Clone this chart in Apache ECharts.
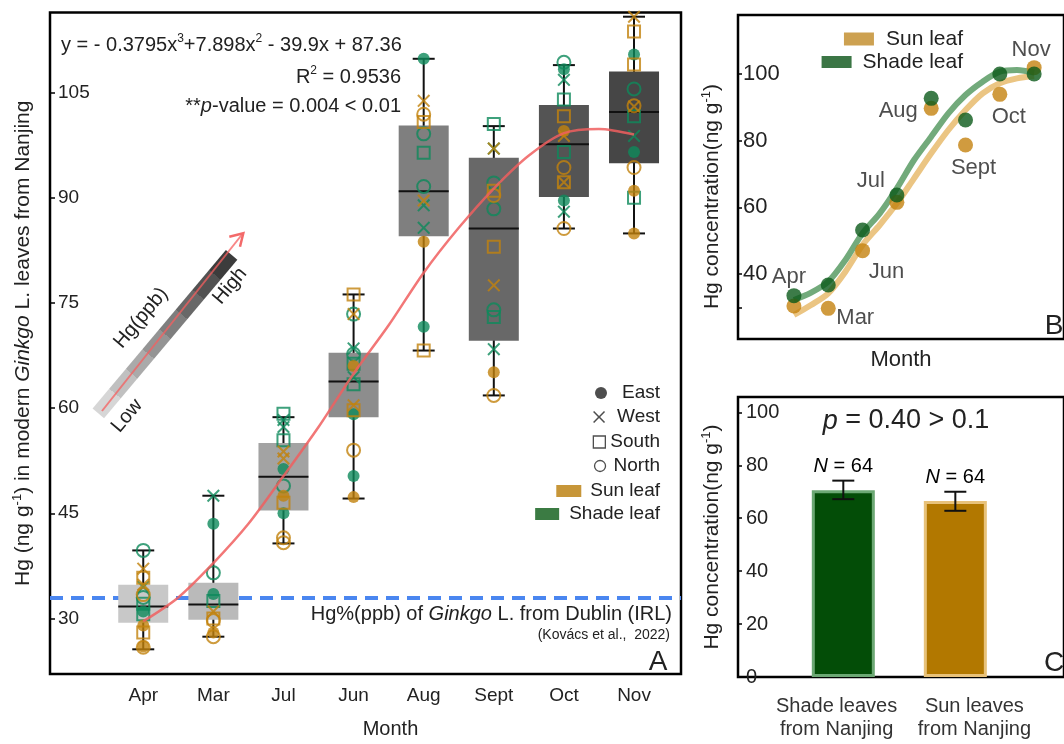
<!DOCTYPE html>
<html>
<head>
<meta charset="utf-8">
<script src="https://cdn.jsdelivr.net/npm/echarts@6/dist/echarts.min.js"></script>
<style>
  html, body { margin: 0; padding: 0; background: #fff; }
  #main { width: 1064px; height: 744px; }
</style>
</head>
<body>
<div id="main"></div>
<script>
// ---------- panel A : box plots by month ----------
var monthsA = ['Apr', 'Mar', 'Jul', 'Jun', 'Aug', 'Sept', 'Oct', 'Nov'];
var boxMin = [25.6, 27.4, 40.7, 47.1, 68.2, 61.8, 85.6, 84.9];
var boxQ1 = [29.4, 29.8, 45.4, 58.7, 84.5, 69.6, 90.1, 94.9];
var boxMed = [31.7, 32.0, 50.2, 63.8, 90.9, 85.6, 97.6, 102.2];
var boxQ3 = [34.8, 35.1, 55.0, 67.9, 100.3, 95.7, 103.2, 108.0];
var boxMax = [39.7, 47.5, 58.7, 76.2, 109.8, 100.2, 108.9, 115.8];
// red fitted curve, every half month
var fitA = [[1, 29.6], [1.5, 33.0], [2, 37.9], [2.5, 43.5], [3, 50.3], [3.5, 57.3], [4, 64.9], [4.5, 71.8],
  [5, 79.3], [5.5, 85.7], [6, 91.3], [6.5, 96.0], [7, 99.2], [7.5, 99.8], [8, 99.0]];
var dublinHg = 32.9;
var ticksA = [30, 45, 60, 75, 90, 105];

// single leaves [month position, Hg]
var sunEast = [[1, 29.0], [1, 26.0], [2, 28.0], [3, 47.5], [4, 66.0], [4, 47.3], [5, 83.7], [6, 65.1], [7, 99.5], [8, 91.0], [8, 84.9]];
var sunWest = [[1, 37.1], [1, 34.8], [2, 31.0], [3, 53.8], [3, 52.8], [4, 73.4], [4, 60.4], [5, 103.8], [5, 89.6], [6, 97.0], [6, 77.5], [7, 98.8], [7, 92.2], [8, 115.8], [8, 103.0]];
var sunSouth = [[1, 35.8], [1, 28.0], [2, 30.0], [3, 46.5], [4, 76.2], [4, 59.7], [5, 100.8], [5, 68.2], [6, 91.0], [6, 83.0], [7, 101.6], [7, 92.2], [8, 113.7], [8, 109.0]];
var sunNorth = [[1, 33.4], [1, 25.9], [2, 29.7], [2, 27.4], [3, 41.5], [3, 40.8], [4, 54.0], [5, 101.9], [6, 90.3], [6, 61.8], [7, 94.3], [7, 85.6], [8, 103.1], [8, 94.3]];
var shadeEast = [[1, 31.0], [2, 43.5], [2, 33.5], [3, 51.3], [3, 45.0], [4, 59.1], [4, 50.3], [5, 109.8], [5, 71.6], [7, 108.3], [7, 89.6], [8, 110.4], [8, 96.5]];
var shadeWest = [[1, 34.5], [2, 47.5], [3, 58.3], [3, 57.3], [4, 68.5], [4, 64.4], [5, 88.9], [5, 85.7], [6, 97.0], [6, 68.4], [7, 106.8], [7, 88.0], [8, 98.8]];
var shadeSouth = [[1, 32.1], [1, 30.6], [2, 32.5], [3, 59.2], [3, 55.4], [4, 66.3], [4, 63.4], [5, 96.4], [6, 100.5], [6, 73.0], [7, 104.0], [7, 96.5], [8, 101.6], [8, 90.0]];
var shadeNorth = [[1, 39.7], [1, 33.0], [2, 36.5], [3, 48.9], [4, 73.4], [4, 67.7], [5, 99.1], [5, 91.6], [6, 92.1], [6, 88.4], [6, 74.0], [7, 109.3], [8, 105.5]];

// ---------- panel B : monthly means ----------
var monthsB = ['Apr', 'Mar', 'Jun', 'Jul', 'Aug', 'Sept', 'Oct', 'Nov'];
var sunB = [30.4, 29.7, 47.0, 61.5, 89.7, 78.7, 93.9, 101.9];
var shadeB = [33.5, 36.7, 53.2, 63.7, 92.7, 86.2, 100.0, 100.0];
var sunFitB = [[1, 27.7], [1.5, 30.7], [2, 34.2], [2.5, 40.7], [3, 48.7], [3.5, 54.7], [4, 61.2], [4.5, 68.7],
  [5, 76.2], [5.5, 83.2], [6, 89.2], [6.5, 94.2], [7, 97.2], [7.5, 98.7], [8, 99.4]];
var shadeFitB = [[1, 32.2], [1.5, 34.4], [2, 37.7], [2.5, 44.2], [3, 52.2], [3.5, 58.2], [4, 65.7], [4.5, 74.2],
  [5, 81.2], [5.5, 88.2], [6, 93.7], [6.5, 97.7], [7, 100.7], [7.5, 101.2], [8, 100.4]];

// ---------- panel C : sun vs shade ----------
var catsC = ['Shade leaves\nfrom Nanjing', 'Sun leaves\nfrom Nanjing'];
var meanC = [70.6, 66.5];
var errLoC = [67.2, 62.8];
var errHiC = [74.2, 70.0];
var nC = [64, 64];

var FONT = '"Liberation Sans", Arial, sans-serif';
var INK = '#222';
var SUN = '#c2820c', SHADE = '#0e8a5b';
var boxColors = ['#c8c8c8', '#bababa', '#a3a3a3', '#8d8d8d', '#7f7f7f', '#686868', '#545454', '#464646'];
var XPATH = 'path://M0,1.1L1.1,0L5,3.9L8.9,0L10,1.1L6.1,5L10,8.9L8.9,10L5,6.1L1.1,10L0,8.9L3.9,5Z';
var XTHIN = 'path://M0.9,0L5,4.1L9.1,0L10,0.9L5.9,5L10,9.1L9.1,10L5,5.9L0.9,10L0,9.1L4.1,5L0,0.9Z';
// the category captions in C sit slightly off the bar centres
var catLabelAt = [0.94, 2.17];

function rich(size) {
  return {
    sup: { fontSize: Math.round(size * 0.6), verticalAlign: 'top', fontFamily: FONT, color: INK, lineHeight: size + 4 },
    i: { fontSize: size, fontStyle: 'italic', fontFamily: FONT, color: INK, lineHeight: size + 4 },
    n: { fontSize: size, fontFamily: FONT, color: INK, lineHeight: size + 4 }
  };
}
function txt(size) {
  return { fontSize: size, color: INK, fontFamily: FONT };
}

var chart = echarts.init(document.getElementById('main'));

function renderBox(params, api) {
  var x = api.value(0);
  var pMin = api.coord([x, api.value(1)]);
  var pQ1 = api.coord([x, api.value(2)]);
  var pMed = api.coord([x, api.value(3)]);
  var pQ3 = api.coord([x, api.value(4)]);
  var pMax = api.coord([x, api.value(5)]);
  var half = 25, cap = 11;
  var black = { stroke: '#111', lineWidth: 2 };
  return {
    type: 'group',
    children: [
      { type: 'line', shape: { x1: pMin[0], y1: pMin[1], x2: pMax[0], y2: pMax[1] }, style: black },
      { type: 'line', shape: { x1: pMin[0] - cap, y1: pMin[1], x2: pMin[0] + cap, y2: pMin[1] }, style: black },
      { type: 'line', shape: { x1: pMax[0] - cap, y1: pMax[1], x2: pMax[0] + cap, y2: pMax[1] }, style: black },
      { type: 'rect', shape: { x: pQ3[0] - half, y: pQ3[1], width: half * 2, height: pQ1[1] - pQ3[1] }, style: { fill: boxColors[params.dataIndex] } },
      { type: 'line', shape: { x1: pMed[0] - half, y1: pMed[1], x2: pMed[0] + half, y2: pMed[1] }, style: black }
    ]
  };
}

function renderErr(params, api) {
  var x = api.value(0);
  var lo = api.coord([x, api.value(1)]);
  var hi = api.coord([x, api.value(2)]);
  var cap = 11;
  var black = { stroke: '#111', lineWidth: 2 };
  return {
    type: 'group',
    children: [
      { type: 'line', shape: { x1: lo[0], y1: lo[1], x2: hi[0], y2: hi[1] }, style: black },
      { type: 'line', shape: { x1: lo[0] - cap, y1: lo[1], x2: lo[0] + cap, y2: lo[1] }, style: black },
      { type: 'line', shape: { x1: hi[0] - cap, y1: hi[1], x2: hi[0] + cap, y2: hi[1] }, style: black },
      {
        type: 'text',
        style: {
          x: hi[0], y: hi[1] - 2, align: 'center', verticalAlign: 'bottom',
          text: '{i|N}{n| = ' + api.value(3) + '}', rich: rich(20)
        }
      }
    ]
  };
}

function pointSeries(name, data, color, kind) {
  var s = { name: name, type: 'scatter', xAxisIndex: 0, yAxisIndex: 0, data: data, z: 3, silent: true };
  if (kind === 'east') {
    s.symbol = 'circle'; s.symbolSize = 12; s.itemStyle = { color: color };
  } else if (kind === 'west') {
    s.symbol = XPATH; s.symbolSize = 13; s.itemStyle = { color: color };
  } else if (kind === 'south') {
    s.symbol = 'rect'; s.symbolSize = 12; s.itemStyle = { color: 'rgba(0,0,0,0)', borderColor: color, borderWidth: 2 };
  } else {
    s.symbol = 'circle'; s.symbolSize = 13; s.itemStyle = { color: 'rgba(0,0,0,0)', borderColor: color, borderWidth: 2 };
  }
  return s;
}

// month labels in panel B: which point carries them and the shift
var bLabelOn = ['shade', 'sun', 'sun', 'shade', 'shade', 'sun', 'sun', 'sun'];
var bLabelShift = [[-5, -19], [27, 10], [24, 21], [-26, -14], [-33, 13], [8, 23], [9, 23], [-3, -18]];

function pointsB(vals, key) {
  return vals.map(function (v, i) {
    var item = { value: [i + 1, v] };
    if (bLabelOn[i] === key) {
      item.label = { show: true, position: 'inside', offset: bLabelShift[i], formatter: monthsB[i], fontSize: 22, color: INK, fontFamily: FONT };
    }
    return item;
  });
}

function legendRow(name, icon, w, h, style, textRight, cy, gap, size) {
  return {
    data: [{ name: name, icon: icon, itemStyle: style }],
    right: 1064 - textRight, top: cy - 11, itemWidth: w, itemHeight: h, padding: 0,
    selectedMode: false,
    textStyle: { fontSize: size, color: INK, fontFamily: FONT, lineHeight: 22, padding: [0, 0, 0, gap] }
  };
}

// stepped grey bands of the Low -> High arrow
var bandStops = [];
for (var b = 0; b < 8; b++) {
  var g = Math.round(0xd6 - (0xd6 - 0x3c) * b / 7);
  var c = 'rgb(' + g + ',' + g + ',' + g + ')';
  bandStops.push({ offset: b / 8, color: c }, { offset: (b + 1) / 8, color: c });
}
var ang = 0.871;

var frame = { show: true, borderColor: '#000', borderWidth: 2.5, backgroundColor: 'transparent' };
var noLine = { show: false, onZero: false };

var option = {
  backgroundColor: '#fff',
  animation: false,
  textStyle: { fontFamily: FONT },
  grid: [
    Object.assign({ left: 50, top: 12.5, right: 383, bottom: 65 }, frame),
    Object.assign({ left: 738, top: 15, right: -12, bottom: 405 }, frame),
    Object.assign({ left: 738, top: 397, right: -12, bottom: 67 }, frame)
  ],
  xAxis: [
    {
      gridIndex: 0, type: 'value', min: -0.33, max: 8.67,
      axisLine: noLine, axisTick: { show: false }, splitLine: { show: false },
      axisLabel: Object.assign({ customValues: [1, 2, 3, 4, 5, 6, 7, 8], margin: 12, hideOverlap: false, showMinLabel: true, showMaxLabel: true, formatter: function (v) { return monthsA[Math.round(v) - 1]; } }, txt(19)),
      name: 'Month', nameLocation: 'middle', nameGap: 45,
      nameTextStyle: Object.assign({ padding: [0, 0, 0, 50] }, txt(20))
    },
    {
      gridIndex: 1, type: 'value', min: -0.63, max: 8.87,
      axisLine: noLine, axisTick: { show: false }, splitLine: { show: false }, axisLabel: { show: false },
      name: 'Month', nameLocation: 'middle', nameGap: 10, nameTextStyle: txt(22)
    },
    {
      gridIndex: 2, type: 'value', min: 0.06, max: 2.97,
      axisLine: noLine, axisTick: { show: false }, splitLine: { show: false },
      axisLabel: {
        customValues: catLabelAt, margin: 18, lineHeight: 23, fontSize: 20, color: '#333', fontFamily: FONT,
        hideOverlap: false, showMinLabel: true, showMaxLabel: true,
        formatter: function (v) { return catsC[v < 1.5 ? 0 : 1]; }
      }
    }
  ],
  yAxis: [
    {
      gridIndex: 0, type: 'value', min: 22.08, max: 116.4,
      axisLine: noLine, splitLine: { show: false },
      axisTick: { inside: true, length: 5, customValues: ticksA, lineStyle: { color: '#000', width: 1.5 } },
      axisLabel: Object.assign({ inside: true, margin: 8, customValues: ticksA }, txt(19)),
      name: 'Hg (ng g{sup|-1}) in modern {i|Ginkgo} L. leaves from Nanjing',
      nameLocation: 'middle', nameGap: 14, nameRotate: 90,
      nameTextStyle: Object.assign({ rich: rich(21), lineHeight: 25 }, txt(21))
    },
    {
      gridIndex: 1, type: 'value', min: 20.5, max: 117.7,
      axisLine: noLine, splitLine: { show: false },
      axisTick: { inside: true, length: 4, customValues: [30, 40, 60, 80, 100], lineStyle: { color: '#000', width: 1.5 } },
      axisLabel: Object.assign({ inside: true, margin: 5, customValues: [40, 60, 80, 100] }, txt(22)),
      name: 'Hg concentration(ng g{sup|-1})',
      nameLocation: 'middle', nameGap: 13, nameRotate: 90,
      nameTextStyle: Object.assign({ rich: rich(21), lineHeight: 25, padding: [0, 39, 0, 0] }, txt(21))
    },
    {
      gridIndex: 2, type: 'value', min: 0, max: 105.8,
      axisLine: noLine, splitLine: { show: false },
      axisTick: { inside: true, length: 4, customValues: [0, 20, 40, 60, 80, 100], lineStyle: { color: '#000', width: 1.5 } },
      axisLabel: Object.assign({ inside: true, margin: 8, customValues: [0, 20, 40, 60, 80, 100] }, txt(20)),
      name: 'Hg concentration(ng g{sup|-1})',
      nameLocation: 'middle', nameGap: 13, nameRotate: 90,
      nameTextStyle: Object.assign({ rich: rich(21), lineHeight: 25 }, txt(21))
    }
  ],
  legend: [
    legendRow('East', 'circle', 12, 12, { color: INK }, 660, 393, 10, 19),
    legendRow('West', XTHIN, 12, 12, { color: INK }, 660, 417, 7, 19),
    legendRow('South', 'rect', 12, 12, { color: 'rgba(0,0,0,0)', borderColor: INK, borderWidth: 1.3 }, 660, 442, 0, 19),
    legendRow('North', 'circle', 11, 11, { color: 'rgba(0,0,0,0)', borderColor: INK, borderWidth: 1.3 }, 660, 466, 3, 19),
    legendRow('Sun leaf', 'rect', 25, 12, { color: '#b97c08' }, 660, 491, 4, 19),
    legendRow('Shade leaf', 'rect', 24, 12, { color: '#0a5a14' }, 660, 514, 5, 19),
    legendRow('Sun leaf', 'rect', 30, 13, { color: '#c08a26' }, 963, 39, 7, 21),
    legendRow('Shade leaf', 'rect', 30, 12, { color: '#0a5416' }, 963, 62, 6, 21)
  ],
  series: [
    {
      name: 'box', type: 'custom', xAxisIndex: 0, yAxisIndex: 0, z: 2, silent: true,
      renderItem: renderBox,
      encode: { x: 0, y: [1, 2, 3, 4, 5] },
      data: monthsA.map(function (m, i) { return [i + 1, boxMin[i], boxQ1[i], boxMed[i], boxQ3[i], boxMax[i]]; }),
      markLine: {
        z: 1, silent: true, symbol: 'none', label: { show: false },
        lineStyle: { color: '#4a86f0', width: 4, type: [13, 8] },
        data: [{ yAxis: dublinHg }]
      }
    },
    pointSeries('shade E', shadeEast, SHADE, 'east'),
    pointSeries('shade W', shadeWest, SHADE, 'west'),
    pointSeries('shade S', shadeSouth, SHADE, 'south'),
    pointSeries('shade N', shadeNorth, SHADE, 'north'),
    pointSeries('sun E', sunEast, SUN, 'east'),
    pointSeries('sun W', sunWest, SUN, 'west'),
    pointSeries('sun S', sunSouth, SUN, 'south'),
    pointSeries('sun N', sunNorth, SUN, 'north'),
    {
      name: 'fit', type: 'line', xAxisIndex: 0, yAxisIndex: 0, z: 4, silent: true,
      data: fitA, smooth: 0.3, symbol: 'none',
      lineStyle: { color: 'rgba(240,95,95,0.85)', width: 2.5 }
    },
    // legend-only entries for panel A
    { name: 'East', type: 'scatter', data: [], xAxisIndex: 0, yAxisIndex: 0 },
    { name: 'West', type: 'scatter', data: [], xAxisIndex: 0, yAxisIndex: 0 },
    { name: 'South', type: 'scatter', data: [], xAxisIndex: 0, yAxisIndex: 0 },
    { name: 'North', type: 'scatter', data: [], xAxisIndex: 0, yAxisIndex: 0 },
    // panel B
    {
      name: 'sun fit', type: 'line', xAxisIndex: 1, yAxisIndex: 1, z: 2, silent: true,
      data: sunFitB, smooth: 0.3, symbol: 'none', lineStyle: { color: '#ebc583', width: 6 }
    },
    {
      name: 'shade fit', type: 'line', xAxisIndex: 1, yAxisIndex: 1, z: 2, silent: true,
      data: shadeFitB, smooth: 0.3, symbol: 'none', lineStyle: { color: '#72aa7b', width: 6 }
    },
    {
      name: 'Sun leaf', type: 'scatter', xAxisIndex: 1, yAxisIndex: 1, z: 3, silent: true,
      symbolSize: 15, itemStyle: { color: '#c4820f' }, data: pointsB(sunB, 'sun')
    },
    {
      name: 'Shade leaf', type: 'scatter', xAxisIndex: 1, yAxisIndex: 1, z: 4, silent: true,
      symbolSize: 15, itemStyle: { color: '#0b5a1a' }, data: pointsB(shadeB, 'shade')
    },
    // panel C
    {
      name: 'mean', type: 'bar', xAxisIndex: 2, yAxisIndex: 2, barWidth: 63, silent: true,
      data: meanC.map(function (v, i) {
        return {
          value: [i + 1, v],
          itemStyle: i === 0 ? { color: '#034d07', borderColor: '#6ca874', borderWidth: 3 } : { color: '#b27800', borderColor: '#e8c27a', borderWidth: 3 }
        };
      })
    },
    {
      name: 'err', type: 'custom', xAxisIndex: 2, yAxisIndex: 2, z: 5, silent: true,
      renderItem: renderErr,
      encode: { x: 0, y: [1, 2] },
      data: meanC.map(function (v, i) { return [i + 1, errLoC[i], errHiC[i], nC[i]]; })
    }
  ],
  graphic: [
    { type: 'text', left: 61, top: 33, style: { text: '{n|y = - 0.3795x}{sup|3}{n|+7.898x}{sup|2}{n| - 39.9x + 87.36}', rich: rich(20), fontSize: 20, fontFamily: FONT, fill: INK } },
    { type: 'text', right: 1064 - 401, top: 65, style: { text: '{n|R}{sup|2}{n| = 0.9536}', rich: rich(20), fontSize: 20, fontFamily: FONT, fill: INK } },
    { type: 'text', right: 1064 - 401, top: 96, style: { text: '{n|**}{i|p}{n|-value = 0.004 < 0.01}', rich: rich(20), fontSize: 20, fontFamily: FONT, fill: INK } },
    { type: 'text', right: 1064 - 672, top: 604, style: { text: '{n|Hg%(ppb) of }{i|Ginkgo}{n| L. from Dublin (IRL)}', rich: rich(20), fontSize: 20, fontFamily: FONT, fill: INK } },
    { type: 'text', right: 1064 - 670, top: 628, style: { text: '(Kovács et al.,  2022)', fontSize: 14, fontFamily: FONT, fill: INK } },
    { type: 'text', x: 658, y: 662, style: { text: 'A', fontSize: 28, fontFamily: FONT, fill: INK, align: 'center', verticalAlign: 'middle' } },
    { type: 'text', x: 1054, y: 326, style: { text: 'B', fontSize: 28, fontFamily: FONT, fill: INK, align: 'center', verticalAlign: 'middle' } },
    { type: 'text', x: 1054, y: 663, style: { text: 'C', fontSize: 28, fontFamily: FONT, fill: INK, align: 'center', verticalAlign: 'middle' } },
    { type: 'text', x: 906, y: 421, style: { text: '{pi|p}{pn| = 0.40 > 0.1}', rich: { pi: { fontSize: 27, fontStyle: 'italic', fontFamily: FONT, fill: INK }, pn: { fontSize: 27, fontFamily: FONT, fill: INK } }, align: 'center', verticalAlign: 'middle' } },
    // Low -> High arrow
    {
      type: 'rect', x: 98.3, y: 413.3, rotation: ang, silent: true,
      shape: { x: 0, y: -7.5, width: 207, height: 15 },
      style: { fill: new echarts.graphic.LinearGradient(0, 0, 1, 0, bandStops) }
    },
    { type: 'line', silent: true, shape: { x1: 102, y1: 411, x2: 242, y2: 234.5 }, style: { stroke: 'rgba(245,95,95,0.75)', lineWidth: 2 } },
    { type: 'polyline', silent: true, shape: { points: [[229.3, 236.7], [243.3, 233.3], [240, 246.7]] }, style: { stroke: '#f36a6a', lineWidth: 2.5, fill: null } },
    { type: 'text', x: 141, y: 318, rotation: ang, style: { text: 'Hg(ppb)', fontSize: 20, fontFamily: FONT, fill: INK, align: 'center', verticalAlign: 'middle' } },
    { type: 'text', x: 230, y: 286, rotation: ang, style: { text: 'High', fontSize: 20, fontFamily: FONT, fill: INK, align: 'center', verticalAlign: 'middle' } },
    { type: 'text', x: 127, y: 416, rotation: ang, style: { text: 'Low', fontSize: 20, fontFamily: FONT, fill: INK, align: 'center', verticalAlign: 'middle' } }
  ]
};

chart.setOption(option);
</script>
</body>
</html>
